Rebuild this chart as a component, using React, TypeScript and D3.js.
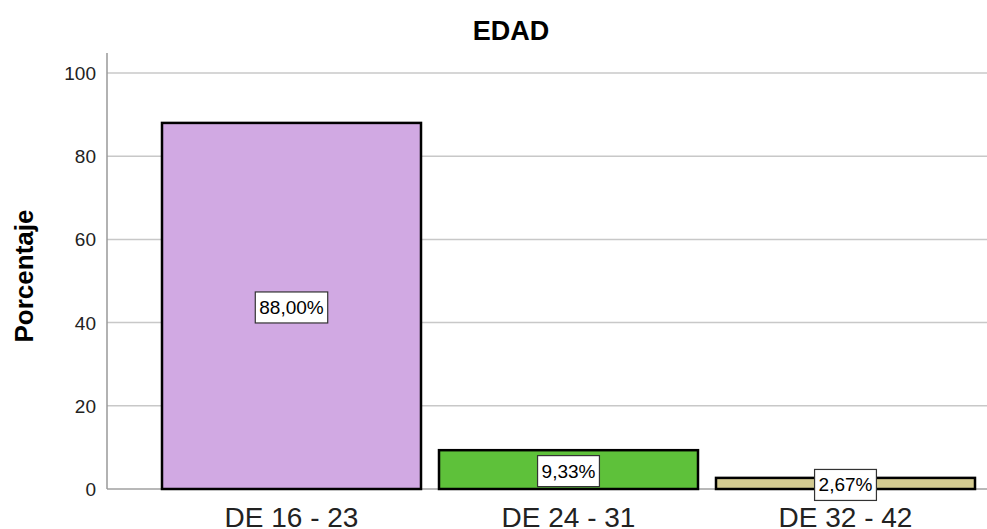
import React from "react";
import * as d3 from "d3";

const categories = ["DE 16 - 23", "DE 24 - 31", "DE 32 - 42"];
const values = [88.0, 9.33, 2.67];
const labels = ["88,00%", "9,33%", "2,67%"];
const colors = ["#d1a9e3", "#5ec13a", "#d4cb91"];
const yTicks = [0, 20, 40, 60, 80, 100];

const W = 987;
const H = 529;
const FONT = "Arial, 'Liberation Sans', Helvetica, sans-serif";

function emWidth(s: string) {
  let w = 0;
  for (const ch of s) {
    if (ch === ",") w += 0.278;
    else if (ch === "%") w += 0.889;
    else w += 0.556;
  }
  return w;
}

export default function App() {
  const x = d3.scaleBand<string>().domain(categories).range([153, 984]).paddingInner(0.065).paddingOuter(0.0325);
  const y = d3.scaleLinear().domain([0, 100]).range([489, 73]);
  const axisX = 107;
  const lblSize = 19;
  return (
    <svg width={W} height={H} style={{ position: "absolute", left: 0, top: 0, background: "#fff" }} fontFamily={FONT}>
      <rect x={0} y={0} width={W} height={H} fill="#fff" />
      <text x={511} y={40} textAnchor="middle" fontSize={27} fontWeight="bold" fill="#000">EDAD</text>
      {yTicks.map((t) => (
        <g key={t}>
          <line x1={axisX} x2={W} y1={y(t)} y2={y(t)} stroke={t === 0 ? "#a0a0a0" : "#c8c8c8"} strokeWidth={1.5} />
          <text x={96} y={y(t) + 7} textAnchor="end" fontSize={19} fill="#222">{t}</text>
        </g>
      ))}
      <line x1={axisX} x2={axisX} y1={53} y2={489} stroke="#999" strokeWidth={1.5} />
      <text transform={`translate(33,${276}) rotate(-90)`} textAnchor="middle" fontSize={26} fontWeight="bold" fill="#000">Porcentaje</text>
      {categories.map((c, i) => {
        const bx = x(c)!;
        const bw = x.bandwidth();
        const top = y(values[i]);
        const cx = bx + bw / 2;
        const cy = (top + y(0)) / 2 + 1;
        const lw = emWidth(labels[i]) * lblSize + 8;
        return (
          <g key={c}>
            <rect x={bx} y={top} width={bw} height={y(0) - top} fill={colors[i]} stroke="#000" strokeWidth={2.5} />
            <rect x={cx - lw / 2} y={cy - 15} width={lw} height={31} fill="#fff" stroke="#333" strokeWidth={1.2} />
            <text x={cx} y={cy + 7} textAnchor="middle" fontSize={lblSize} fill="#000">{labels[i]}</text>
            <text x={cx} y={527} textAnchor="middle" fontSize={28} fill="#222">{c}</text>
          </g>
        );
      })}
    </svg>
  );
}
